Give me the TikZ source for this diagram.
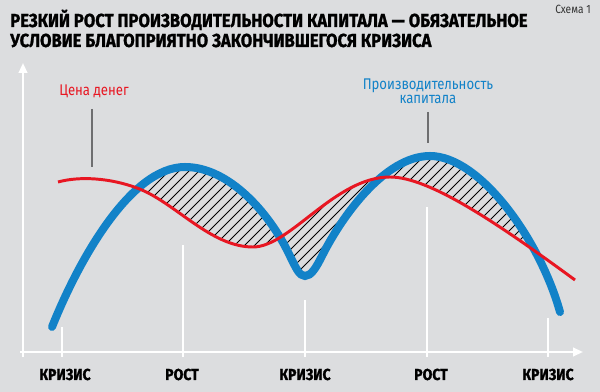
\documentclass[tikz,border=0pt]{standalone}
\usepackage{fontspec}
\setmainfont{Fira Sans}
\newfontfamily\titlefont{Fira Sans}[FakeStretch=0.88, FakeBold=1.2]
\newfontfamily\labelfont{Fira Sans}[FakeStretch=0.85]
\usetikzlibrary{arrows.meta,intersections,backgrounds}

\definecolor{bg}{RGB}{220,221,223}
\definecolor{capblue}{RGB}{18,130,200}
\definecolor{moneyred}{RGB}{232,22,34}
\definecolor{leadergray}{RGB}{110,110,112}

\tikzset{
  axis/.style={white, line width=1.5pt},
  tick/.style={white, line width=1.5pt},
  phase/.style={font=\titlefont\bfseries\fontsize{11.3}{12}\selectfont, text=black, anchor=base, inner sep=0pt},
  curvelabel/.style={font=\labelfont\fontsize{11}{12}\selectfont, anchor=base, inner sep=0pt},
  leader/.style={leadergray, line width=1pt},
  hatch/.style={black, line width=0.6pt},
}

\begin{document}
\begin{tikzpicture}[x=0.025cm, y=-0.025cm]
    \begin{pgfonlayer}{background}
        \fill[bg] (0,0) rectangle (600,392);
    \end{pgfonlayer}
    \useasboundingbox (0,0) rectangle (600,392);

    % Title
    \node[anchor=base west, inner sep=0pt, font=\titlefont\bfseries\fontsize{13.4}{16}\selectfont] (title1) at (10,27) {РЕЗКИЙ РОСТ ПРОИЗВОДИТЕЛЬНОСТИ КАПИТАЛА — ОБЯЗАТЕЛЬНОЕ};
    \node[anchor=base west, inner sep=0pt, font=\titlefont\bfseries\fontsize{13.4}{16}\selectfont] (title2) at (10,47) {УСЛОВИЕ БЛАГОПРИЯТНО ЗАКОНЧИВШЕГОСЯ КРИЗИСА};
    \node[anchor=base east, inner sep=0pt, font=\labelfont\fontsize{8.5}{10}\selectfont, text=black!80] (scheme) at (591,14) {Схема 1};

    % Draw axes
    \draw[axis,-{Triangle[length=7pt,width=6pt]}] (23,357) -- (23,63);
    \draw[axis,-{Triangle[length=7pt,width=6pt]}] (20,352) -- (583,352);

    % Ticks and phases
    \foreach \x/\top/\lx/\name/\lab in {62/327/65/crisisA/КРИЗИС, 183/245/182/growthA/РОСТ, 305/300/305/crisisB/КРИЗИС, 427/207/431/growthB/РОСТ, 548/318/548/crisisC/КРИЗИС}{
        \draw[tick] (\x,357) -- (\x,\top);
        \node[phase] (\name) at (\lx,380) {\lab};
    }

    % Draw curves
    \draw[name path=bluecurve, capblue, line width=5.7pt, line cap=round]
        (52,327) .. controls (78,262) and (130,167) .. (185,167)
        .. controls (230,167) and (270,215) .. (288,252)
        .. controls (296,268) and (299,276) .. (305,276)
        .. controls (311,276) and (316,268) .. (322,256)
        .. controls (342,216) and (385,156) .. (430,156)
        .. controls (480,156) and (540,240) .. (560,312);
    \draw[name path=redcurve, moneyred, line width=2.1pt]
        (58,182) .. controls (80,176) and (110,178) .. (137,188)
        .. controls (175,202) and (210,247) .. (253,247)
        .. controls (290,247) and (335,177) .. (390,177)
        .. controls (430,177) and (500,225) .. (575,280);
    \path[name intersections={of=bluecurve and redcurve, sort by=bluecurve, name=cross}];

    % Hatched area between the curves
    \begin{pgfonlayer}{background}
    \begin{scope}
        \clip (52,327) .. controls (78,262) and (130,167) .. (185,167)
            .. controls (230,167) and (270,215) .. (288,252)
            .. controls (296,268) and (299,276) .. (305,276)
            .. controls (311,276) and (316,268) .. (322,256)
            .. controls (342,216) and (385,156) .. (430,156)
            .. controls (480,156) and (540,240) .. (560,312)
            -- (575,280) .. controls (500,225) and (430,177) .. (390,177)
            .. controls (335,177) and (290,247) .. (253,247)
            .. controls (210,247) and (175,202) .. (137,188)
            .. controls (110,178) and (80,176) .. (58,182) -- cycle;
        \clip (cross-1 |- 0,0) rectangle (cross-4 |- 0,392);
        \foreach \i in {0,...,55}
            \draw[hatch] (\i*10-20,300) -- ++(200,-200);
    \end{scope}
    \end{pgfonlayer}

    % Curve labels
    \node[curvelabel, text=moneyred] (money) at (94,96) {Цена денег};
    \coordinate (moneyhook) at (92,167);
    \draw[leader, shorten <=0.325cm] (money.base -| moneyhook) -- (moneyhook);

    \node[curvelabel, text=capblue] (capitalA) at (428,90) {Производительность};
    \node[curvelabel, text=capblue] (capitalB) at (428,104) {капитала};
    \coordinate (capitalhook) at (428,143);
    \draw[leader, shorten <=0.2cm] (capitalB.base -| capitalhook) -- (capitalhook);
\end{tikzpicture}
\end{document}
